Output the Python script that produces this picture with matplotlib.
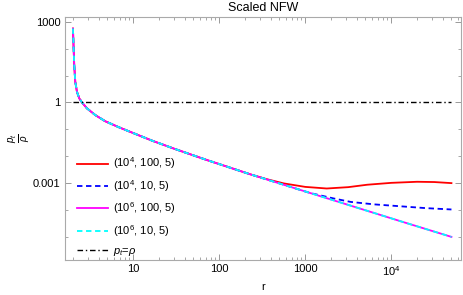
import numpy as np
import matplotlib
matplotlib.use('Agg')
import matplotlib.pyplot as plt
from matplotlib.ticker import FixedLocator, LogLocator, NullFormatter

plt.rcParams['font.family'] = ['Liberation Sans', 'DejaVu Sans']
plt.rcParams['mathtext.fontset'] = 'custom'
plt.rcParams['mathtext.rm'] = 'Liberation Sans'
plt.rcParams['mathtext.it'] = 'Liberation Sans:italic'

# log10 values
log_r_shared = [0.302, 0.310, 0.317, 0.329, 0.349, 0.376, 0.407, 0.465, 0.562,
                0.678, 0.834, 1.027, 1.221, 1.469, 1.857, 2.36]
log_y_shared = [2.75, 2.01, 1.39, 0.77, 0.39, 0.15, 0.0, -0.22, -0.47,
                -0.70, -0.92, -1.17, -1.42, -1.71, -2.14, -2.67]

log_r_main_tail = [2.75, 3.06, 3.25, 3.53, 4.10, 4.699]
log_y_main_tail = [-3.06, -3.37, -3.56, -3.84, -4.41, -5.00]

log_r_red_tail = [2.55, 2.75, 3.0, 3.25, 3.5, 3.72, 4.0, 4.30, 4.5, 4.699]
log_y_red_tail = [-2.85, -3.01, -3.14, -3.20, -3.15, -3.06, -2.99, -2.95, -2.96, -3.00]

log_r_blue_tail = [2.75, 3.06, 3.33, 3.53, 3.8, 4.10, 4.4, 4.699]
log_y_blue_tail = [-3.06, -3.37, -3.57, -3.70, -3.79, -3.86, -3.93, -3.98]

r_range = [2, 5e4]
labels = ['(10$^4$, 100, 5)', '(10$^4$, 10, 5)', '(10$^6$, 100, 5)',
          '(10$^6$, 10, 5)', '$p_t$=$\\rho$']


def series(tail_r, tail_y):
    lr = np.array(log_r_shared + tail_r)
    ly = np.array(log_y_shared + tail_y)
    return 10 ** lr, 10 ** ly


fig = plt.figure(figsize=(4.63, 2.95), dpi=100)
ax = fig.add_axes([0.1397, 0.1186, 0.8560, 0.8248])

r, y = series(log_r_red_tail, log_y_red_tail)
ax.plot(r, y, color='#ff0000', lw=1.3, label=labels[0])
r, y = series(log_r_blue_tail, log_y_blue_tail)
ax.plot(r, y, color='#0000ff', lw=1.3, dashes=(3, 2), label=labels[1])
r, y = series(log_r_main_tail, log_y_main_tail)
ax.plot(r, y, color='#ff00ff', lw=1.3, label=labels[2])
ax.plot(r, y, color='#00ffff', lw=1.3, dashes=(3, 2), label=labels[3])
ax.plot(r_range, [1, 1], color='black', lw=1.0, dashes=(4, 2, 1, 2), label=labels[4])

ax.set_xscale('log')
ax.set_yscale('log')
ax.set_xlim(10 ** 0.206, 10 ** 4.81)
ax.set_ylim(10 ** -5.86, 10 ** 3.19)

ax.xaxis.set_major_locator(FixedLocator([10, 100, 1000, 1e4]))
ax.set_xticklabels(['10', '100', '1000', '10$^4$'])
ax.xaxis.set_minor_locator(LogLocator(base=10, subs=np.arange(2, 10)))
ax.xaxis.set_minor_formatter(NullFormatter())
ax.yaxis.set_major_locator(FixedLocator([1e-3, 1, 1e3]))
ax.set_yticklabels(['0.001', '1', '1000'])
ax.yaxis.set_minor_locator(FixedLocator([1e-5, 1e-4, 1e-2, 0.1, 10, 100]))
ax.yaxis.set_minor_formatter(NullFormatter())

ax.tick_params(which='both', direction='in', top=True, right=True,
               color='#999999', labelsize=8, pad=3)
ax.tick_params(which='major', length=4, width=0.7)
ax.tick_params(which='minor', length=2, width=0.6)
for s in ax.spines.values():
    s.set_color('#aaaaaa')
    s.set_linewidth(0.8)

ax.set_title('Scaled NFW', fontsize=9, pad=4)
ax.set_xlabel('r', fontsize=8, labelpad=3)
fig.text(20 / 463, 1 - 138 / 295, '$\\frac{p_t}{\\rho}$', fontsize=10,
         rotation=90, ha='center', va='center')

ax.legend(loc='upper left', bbox_to_anchor=(0.005, 0.47), frameon=False,
          fontsize=8, handlelength=2.8, labelspacing=0.6, handletextpad=0.5)

fig.savefig('out.png', dpi=100)
